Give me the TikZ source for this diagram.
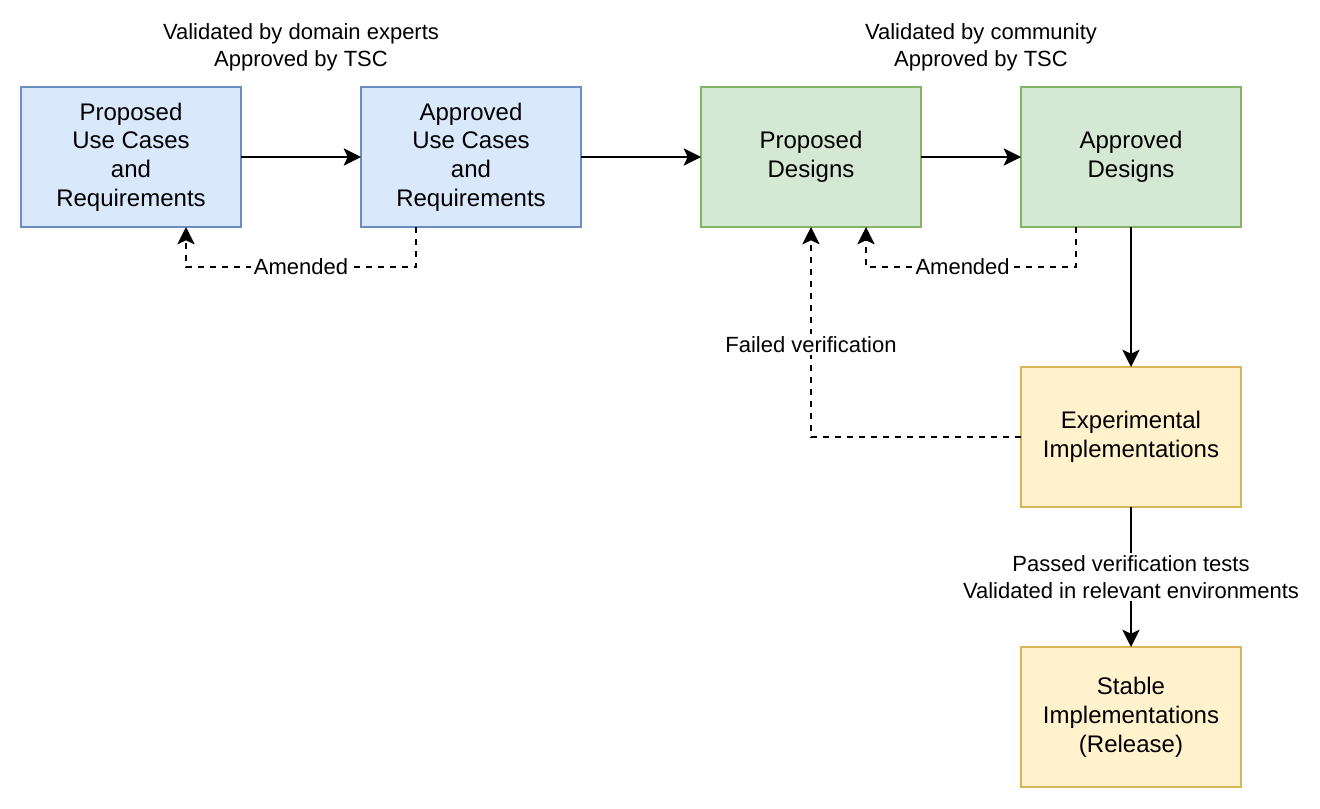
\documentclass[tikz,border=0pt]{standalone}
\usepackage{fontspec}
\setmainfont{Liberation Sans}
\usetikzlibrary{positioning,calc,arrows.meta}

\definecolor{bluefill}{HTML}{DAE8FC}
\definecolor{bluedraw}{HTML}{6C8EBF}
\definecolor{greenfill}{HTML}{D5E8D4}
\definecolor{greendraw}{HTML}{82B366}
\definecolor{yellowfill}{HTML}{FFF2CC}
\definecolor{yellowdraw}{HTML}{D6B656}

\begin{document}
\begin{tikzpicture}[x=0.75pt, y=-0.75pt, node distance=90pt and 90pt,
   box/.style={draw, line width=1.5pt, minimum width=165pt, minimum height=105pt,
      inner sep=0pt, outer sep=0pt, align=center, font=\fontsize{18}{21.6}\selectfont},
   usecase/.style={box, fill=bluefill, draw=bluedraw},
   design/.style={box, fill=greenfill, draw=greendraw},
   impl/.style={box, fill=yellowfill, draw=yellowdraw},
   lbl/.style={align=center, font=\fontsize{16.5}{19.8}\selectfont, inner sep=2pt},
   flow/.style={line width=1.5pt, -{Stealth[length=13pt, width=13pt, inset=3pt]}},
   back/.style={flow, dash pattern=on 4.5pt off 4.5pt}]
   \useasboundingbox (0,0) rectangle (1320,808);

   \node[usecase] (pu) at (131,157) {Proposed\\Use Cases\\and\\Requirements};
   \node[usecase] (au) [right=of pu] {Approved\\Use Cases\\and\\Requirements};
   \node[design] (pd) [right=of au] {Proposed\\Designs};
   \node[design] (ad) [right=75pt of pd] {Approved\\Designs};
   \node[impl] (ei) [below=105pt of ad] {Experimental\\Implementations};
   \node[impl] (si) [below=105pt of ei] {Stable\\Implementations\\(Release)};

   % validation notes above the boxes
   \coordinate (mu) at ($(pu.north)!0.5!(au.north)$);
   \coordinate (md) at ($(pd.north)!0.5!(ad.north)$);
   \node[lbl] (nu) [above=10pt of mu] {Validated by domain experts\\Approved by TSC};
   \node[lbl] (nd) [above=10pt of md, xshift=7.5pt] {Validated by community\\Approved by TSC};

   \draw[flow] (pu) -- (au);
   \draw[flow] (au) -- (pd);
   \draw[flow] (pd) -- (ad);
   \draw[flow] (ad) -- (ei);
   \draw[flow] (ei) -- node[lbl, fill=white] {Passed verification tests\\Validated in relevant environments} (si);

   % amendments and failures
   \coordinate (aus) at ($(au.south west)!0.25!(au.south east)$);
   \coordinate (pus) at ($(pu.south west)!0.75!(pu.south east)$);
   \coordinate (ads) at ($(ad.south west)!0.25!(ad.south east)$);
   \coordinate (pds) at ($(pd.south west)!0.75!(pd.south east)$);
   \draw[back] (aus) -- ++(0,40) -| node[lbl, fill=white, pos=0.25] {Amended} (pus);
   \draw[back] (ads) -- ++(0,40) -| node[lbl, fill=white, pos=0.27] {Amended} (pds);
   \draw[back] (ei.west) -| node[lbl, fill=white, pos=0.72] {Failed verification} (pd.south);
\end{tikzpicture}
\end{document}
